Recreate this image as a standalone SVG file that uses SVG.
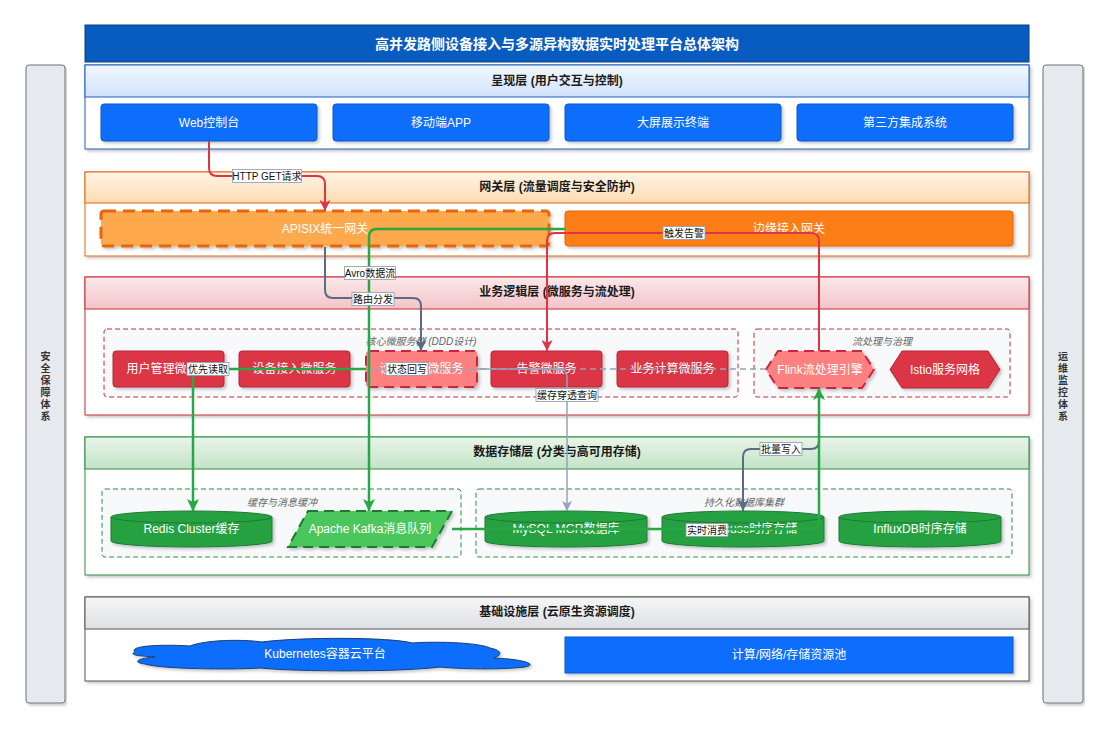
<svg xmlns="http://www.w3.org/2000/svg" width="1111" height="732" viewBox="0 0 1111 732">
<defs>
<style>
text{font-family:"Liberation Sans","Noto Sans CJK SC",sans-serif}
.t{font-size:12px;fill:#fff;text-anchor:middle;dominant-baseline:central}
.h{font-size:12px;font-weight:bold;fill:#1a1a1a;text-anchor:middle;dominant-baseline:central}
.g{font-size:10px;font-style:italic;fill:#666;text-anchor:middle;dominant-baseline:central}
.lb{font-size:10px;fill:#111;text-anchor:middle;dominant-baseline:central}
.lbr{fill:#fff;stroke:#8a9ab0;stroke-width:0.8}
.side{fill:#e6e9ed;stroke:#6c757d;stroke-width:1}
.sidet{font-size:10px;font-weight:bold;fill:#333;text-anchor:middle}
.blue{fill:#0d6efd;stroke:#0a58ca;stroke-width:1}
.red{fill:#dc3545;stroke:#b02a37;stroke-width:1}
.redl{fill:#ff8080;stroke:#c8283c;stroke-width:2;stroke-dasharray:10 6}
.cyl{fill:#28a143;stroke:#1e7a32;stroke-width:1}
.grp{fill:#f8f9fa;stroke-width:1;stroke-dasharray:5 3}
.e{fill:none}
.er{stroke:#dc3545;stroke-width:2}
.eg{stroke:#28a745;stroke-width:2.5}
.es{stroke:#5b6b82;stroke-width:2}
.eq{stroke:#94a3b8;stroke-width:1.5}
</style>
<filter id="sh" x="-5%" y="-20%" width="110%" height="150%">
<feDropShadow dx="2" dy="2" stdDeviation="1.5" flood-color="#000" flood-opacity="0.22"/>
</filter>
<linearGradient id="gB" x1="0" y1="0" x2="0" y2="1"><stop offset="0" stop-color="#f3f8ff"/><stop offset="1" stop-color="#cfe2fb"/></linearGradient>
<linearGradient id="gO" x1="0" y1="0" x2="0" y2="1"><stop offset="0" stop-color="#fff4e6"/><stop offset="1" stop-color="#ffdcb0"/></linearGradient>
<linearGradient id="gR" x1="0" y1="0" x2="0" y2="1"><stop offset="0" stop-color="#fce8ea"/><stop offset="1" stop-color="#f3c4c9"/></linearGradient>
<linearGradient id="gG" x1="0" y1="0" x2="0" y2="1"><stop offset="0" stop-color="#e8f5e9"/><stop offset="1" stop-color="#c3e3c6"/></linearGradient>
<linearGradient id="gY" x1="0" y1="0" x2="0" y2="1"><stop offset="0" stop-color="#f5f6f7"/><stop offset="1" stop-color="#dde0e4"/></linearGradient>
<marker id="mR" viewBox="0 0 10 10" refX="10" refY="5" markerWidth="11" markerHeight="11" markerUnits="userSpaceOnUse" orient="auto"><path d="M0,0 L10,5 L0,10 L2.5,5 Z" fill="#dc3545"/></marker>
<marker id="mG" viewBox="0 0 10 10" refX="10" refY="5" markerWidth="12" markerHeight="12" markerUnits="userSpaceOnUse" orient="auto"><path d="M0,0 L10,5 L0,10 L2.5,5 Z" fill="#28a745"/></marker>
<marker id="mS" viewBox="0 0 10 10" refX="10" refY="5" markerWidth="11" markerHeight="11" markerUnits="userSpaceOnUse" orient="auto"><path d="M0,0 L10,5 L0,10 L2.5,5 Z" fill="#5b6b82"/></marker>
<marker id="mQ" viewBox="0 0 10 10" refX="10" refY="5" markerWidth="10" markerHeight="10" markerUnits="userSpaceOnUse" orient="auto"><path d="M0,0 L10,5 L0,10 L2.5,5 Z" fill="#94a3b8"/></marker>
</defs>
<rect width="1111" height="732" fill="#ffffff"/>

<!-- side bars -->
<g id="side-security">
<rect class="side" x="26" y="65" width="39" height="638" rx="3" filter="url(#sh)"/>
<text class="sidet" x="45.5"><tspan x="45.5" y="360">安</tspan><tspan x="45.5" y="372">全</tspan><tspan x="45.5" y="384">保</tspan><tspan x="45.5" y="396">障</tspan><tspan x="45.5" y="408">体</tspan><tspan x="45.5" y="420">系</tspan></text>
</g>
<g id="side-ops">
<rect class="side" x="1043" y="65" width="40" height="638" rx="3" filter="url(#sh)"/>
<text class="sidet" x="1063"><tspan x="1063" y="360">运</tspan><tspan x="1063" y="372">维</tspan><tspan x="1063" y="384">监</tspan><tspan x="1063" y="396">控</tspan><tspan x="1063" y="408">体</tspan><tspan x="1063" y="420">系</tspan></text>
</g>

<!-- title -->
<g id="title">
<rect x="85" y="25" width="944" height="37" fill="#085cbf" stroke="#0a3f85" stroke-width="1"/>
<text x="557" y="43.5" font-size="14" font-weight="bold" fill="#fff" text-anchor="middle" dominant-baseline="central">高并发路侧设备接入与多源异构数据实时处理平台总体架构</text>
</g>

<!-- layers -->
<g id="layer-presentation">
<rect x="85" y="65" width="944" height="84" fill="#fff" stroke="#1f5fbf" filter="url(#sh)"/>
<rect x="85" y="65" width="944" height="32" fill="url(#gB)" stroke="#1f5fbf"/>
<text class="h" x="557" y="81">呈现层 (用户交互与控制)</text>
</g>
<g id="layer-gateway">
<rect x="85" y="172" width="944" height="84" fill="#fff" stroke="#e0661a" filter="url(#sh)"/>
<rect x="85" y="172" width="944" height="31" fill="url(#gO)" stroke="#e0661a"/>
<text class="h" x="557" y="187">网关层 (流量调度与安全防护)</text>
</g>
<g id="layer-business">
<rect x="85" y="277" width="944" height="138" fill="#fff" stroke="#c62c34" filter="url(#sh)"/>
<rect x="85" y="277" width="944" height="32" fill="url(#gR)" stroke="#c62c34"/>
<text class="h" x="557" y="292">业务逻辑层 (微服务与流处理)</text>
</g>
<g id="layer-storage">
<rect x="85" y="437" width="944" height="138" fill="#fff" stroke="#2e8b40" filter="url(#sh)"/>
<rect x="85" y="437" width="944" height="32" fill="url(#gG)" stroke="#2e8b40"/>
<text class="h" x="557" y="452">数据存储层 (分类与高可用存储)</text>
</g>
<g id="layer-infra">
<rect x="85" y="597" width="944" height="84" fill="#fff" stroke="#555" filter="url(#sh)"/>
<rect x="85" y="597" width="944" height="32" fill="url(#gY)" stroke="#555"/>
<text class="h" x="557" y="612">基础设施层 (云原生资源调度)</text>
</g>

<!-- groups -->
<g id="grp-core"><rect class="grp" x="104" y="329" width="634" height="68" rx="3" stroke="#c62c34"/><text class="g" x="421" y="341">核心微服务群 (DDD设计)</text></g>
<g id="grp-flow"><rect class="grp" x="754" y="329" width="256" height="68" rx="3" stroke="#c62c34"/><text class="g" x="882" y="341">流处理与治理</text></g>
<g id="grp-cache"><rect class="grp" x="102" y="489" width="359" height="68" rx="3" stroke="#2e8b40"/><text class="g" x="282" y="502">缓存与消息缓冲</text></g>
<g id="grp-db"><rect class="grp" x="476" y="489" width="536" height="68" rx="3" stroke="#2e8b40"/><text class="g" x="744" y="502">持久化数据库集群</text></g>

<!-- presentation nodes -->
<g id="n-web"><rect class="blue" x="101" y="104" width="216" height="37" rx="3" filter="url(#sh)"/><text class="t" x="209" y="122.5">Web控制台</text></g>
<g id="n-app"><rect class="blue" x="333" y="104" width="216" height="37" rx="3" filter="url(#sh)"/><text class="t" x="441" y="122.5">移动端APP</text></g>
<g id="n-screen"><rect class="blue" x="565" y="104" width="216" height="37" rx="3" filter="url(#sh)"/><text class="t" x="673" y="122.5">大屏展示终端</text></g>
<g id="n-third"><rect class="blue" x="797" y="104" width="216" height="37" rx="3" filter="url(#sh)"/><text class="t" x="905" y="122.5">第三方集成系统</text></g>

<!-- gateway nodes -->
<g id="n-apisix"><rect x="101" y="211" width="448" height="35" rx="3" fill="#fea94c" stroke="#e8650a" stroke-width="3" stroke-dasharray="12 7" filter="url(#sh)"/><text class="t" x="325" y="228.5">APISIX统一网关</text></g>
<g id="n-edge"><rect x="565" y="211" width="448" height="35" rx="3" fill="#fd7e14" stroke="#e8650a" stroke-width="1" filter="url(#sh)"/><text class="t" x="789" y="228.5">边缘接入网关</text></g>

<!-- business nodes -->
<g id="n-user"><rect class="red" x="113" y="351" width="111" height="36" rx="3" filter="url(#sh)"/><text class="t" x="168.5" y="369">用户管理微服务</text></g>
<g id="n-access"><rect class="red" x="239" y="351" width="111" height="36" rx="3" filter="url(#sh)"/><text class="t" x="294.5" y="369">设备接入微服务</text></g>
<g id="n-shadow"><rect class="redl" x="366" y="351" width="111" height="36" rx="3" filter="url(#sh)"/><text class="t" x="421.5" y="369">设备影子微服务</text></g>
<g id="n-alarm"><rect class="red" x="491" y="351" width="111" height="36" rx="3" filter="url(#sh)"/><text class="t" x="546.5" y="369">告警微服务</text></g>
<g id="n-calc"><rect class="red" x="617" y="351" width="111" height="36" rx="3" filter="url(#sh)"/><text class="t" x="672.5" y="369">业务计算微服务</text></g>
<g id="n-flink"><polygon class="redl" points="766,369.5 778,351 862,351 874,369.5 862,388 778,388" filter="url(#sh)"/><text class="t" x="820" y="369.5">Flink流处理引擎</text></g>
<g id="n-istio"><polygon class="red" points="890,369.5 902,351 988,351 1000,369.5 988,388 902,388" filter="url(#sh)"/><text class="t" x="945" y="369.5">Istio服务网格</text></g>

<!-- storage nodes -->
<g id="n-redis"><path class="cyl" d="M111,517 A80.5,6 0 0 1 272,517 V541 A80.5,6 0 0 1 111,541 Z" filter="url(#sh)"/><path class="e" d="M111,517 A80.5,6 0 0 0 272,517" stroke="#1e7a32"/><text class="t" x="191.5" y="529">Redis Cluster缓存</text></g>
<g id="n-kafka"><polygon points="308,511 452,511 432,547 288,547" fill="#4cc65c" stroke="#1e7a32" stroke-width="2" stroke-dasharray="10 6" filter="url(#sh)"/><text class="t" x="370" y="529">Apache Kafka消息队列</text></g>
<g id="n-mysql"><path class="cyl" d="M485,517 A81,6 0 0 1 647,517 V541 A81,6 0 0 1 485,541 Z" filter="url(#sh)"/><path class="e" d="M485,517 A81,6 0 0 0 647,517" stroke="#1e7a32"/><text class="t" x="566" y="529">MySQL MGR数据库</text></g>
<g id="n-click"><path class="cyl" d="M662,517 A81,6 0 0 1 824,517 V541 A81,6 0 0 1 662,541 Z" filter="url(#sh)"/><path class="e" d="M662,517 A81,6 0 0 0 824,517" stroke="#1e7a32"/><text class="t" x="743" y="529">ClickHouse时序存储</text></g>
<g id="n-influx"><path class="cyl" d="M839,517 A81,6 0 0 1 1001,517 V541 A81,6 0 0 1 839,541 Z" filter="url(#sh)"/><path class="e" d="M839,517 A81,6 0 0 0 1001,517" stroke="#1e7a32"/><text class="t" x="920" y="529">InfluxDB时序存储</text></g>

<!-- infra nodes -->
<g id="n-k8s"><path d="M135,652 C128,646 160,644 190,646 C205,640 240,639 262,642 C300,637 390,637 412,643 C440,641 480,643 490,648 C505,651 500,656 494,658 C520,659 540,664 525,667 C500,670 460,669 440,667 C400,672 300,672 260,668 C230,670 160,669 145,664 C130,662 140,658 155,657 C140,656 128,655 135,652 Z" fill="#0d6efd" stroke="#1b3f73" stroke-width="1" filter="url(#sh)"/><text class="t" x="325" y="654">Kubernetes容器云平台</text></g>
<g id="n-pool"><rect class="blue" x="565" y="637" width="448" height="36" filter="url(#sh)"/><text class="t" x="789" y="655">计算/网络/存储资源池</text></g>

<!-- connectors -->
<g id="connectors">
<path class="e er" d="M209,141 V168 Q209,176 217,176 H317 Q325,176 325,184 V211" marker-end="url(#mR)"/>
<path class="e es" d="M325,247 V290 Q325,298 333,298 H413 Q421,298 421,306 V351" marker-end="url(#mS)"/>
<path class="e eg" d="M565,229 H377 Q369,229 369,237 V511" marker-end="url(#mG)"/>
<path class="e er" d="M819,351 V241 Q819,233 811,233 H555 Q547,233 547,241 V351" marker-end="url(#mR)"/>
<path class="e eq" stroke-dasharray="6 4" d="M766,369 H201 Q193,369 193,377 V511" marker-end="url(#mQ)"/>
<path class="e eg" d="M366,369 H201 Q193,369 193,377 V511" marker-end="url(#mG)"/>
<path class="e eq" d="M477,369 H559 Q567,369 567,377 V511" marker-end="url(#mQ)"/>
<path class="e es" d="M819,388 V441 Q819,449 811,449 H751 Q743,449 743,457 V511" marker-end="url(#mS)"/>
<path class="e eg" d="M452,529 H811 Q819,529 819,521 V388" marker-end="url(#mG)"/>
</g>

<!-- connector labels -->
<g id="edge-labels">
<rect class="lbr" x="232.5" y="169.5" width="69" height="13"/><text class="lb" x="267" y="176">HTTP GET请求</text>
<rect class="lbr" x="344.5" y="266.5" width="51" height="13"/><text class="lb" x="370" y="273">Avro数据流</text>
<rect class="lbr" x="352" y="292.5" width="42" height="13"/><text class="lb" x="373" y="299">路由分发</text>
<rect class="lbr" x="663" y="226.5" width="42" height="13"/><text class="lb" x="684" y="233">触发告警</text>
<rect class="lbr" x="187" y="362.5" width="42" height="13"/><text class="lb" x="208" y="369">优先读取</text>
<rect class="lbr" x="386" y="362.5" width="42" height="13"/><text class="lb" x="407" y="369">状态回写</text>
<rect class="lbr" x="536" y="388.5" width="62" height="13"/><text class="lb" x="567" y="395">缓存穿透查询</text>
<rect class="lbr" x="760" y="442.5" width="42" height="13"/><text class="lb" x="781" y="449">批量写入</text>
<rect class="lbr" x="686" y="523.5" width="42" height="13"/><text class="lb" x="707" y="530">实时消费</text>
</g>
</svg>
